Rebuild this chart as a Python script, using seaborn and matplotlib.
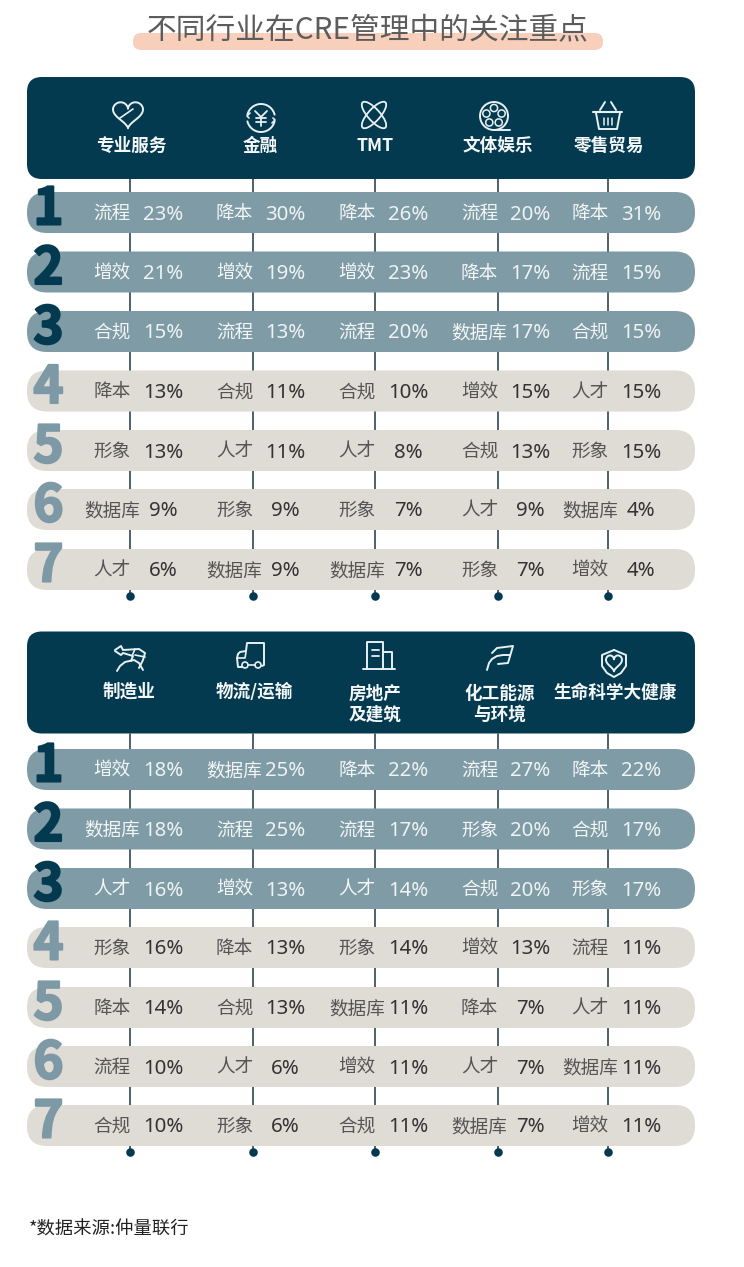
import numpy as np
import pandas as pd
import seaborn as sns
import matplotlib.pyplot as plt
import matplotlib.patheffects as pe
from matplotlib.patches import FancyBboxPatch, Circle, Ellipse

sns.set_theme(style="white")
plt.rcParams['font.family'] = ['Noto Sans CJK SC', 'DejaVu Sans']

title = "不同行业在CRE管理中的关注重点"
source = "*数据来源:仲量联行"
ranks = [1, 2, 3, 4, 5, 6, 7]

# top panel
top_sectors = ["专业服务", "金融", "TMT", "文体娱乐", "零售贸易"]
top_labels = [
    ["流程", "增效", "合规", "降本", "形象", "数据库", "人才"],
    ["降本", "增效", "流程", "合规", "人才", "形象", "数据库"],
    ["降本", "增效", "流程", "合规", "人才", "形象", "数据库"],
    ["流程", "降本", "数据库", "增效", "合规", "人才", "形象"],
    ["降本", "流程", "合规", "人才", "形象", "数据库", "增效"],
]
top_values = [
    [23, 21, 15, 13, 13, 9, 6],
    [30, 19, 13, 11, 11, 9, 9],
    [26, 23, 20, 10, 8, 7, 7],
    [20, 17, 17, 15, 13, 9, 7],
    [31, 15, 15, 15, 15, 4, 4],
]

# bottom panel
bottom_sectors = ["制造业", "物流/运输", "房地产\n及建筑", "化工能源\n与环境", "生命科学大健康"]
bottom_labels = [
    ["增效", "数据库", "人才", "形象", "降本", "流程", "合规"],
    ["数据库", "流程", "增效", "降本", "合规", "人才", "形象"],
    ["降本", "流程", "人才", "形象", "数据库", "增效", "合规"],
    ["流程", "形象", "合规", "增效", "降本", "人才", "数据库"],
    ["降本", "合规", "形象", "流程", "人才", "数据库", "增效"],
]
bottom_values = [
    [18, 18, 16, 16, 14, 10, 10],
    [25, 25, 13, 13, 13, 6, 6],
    [22, 17, 14, 14, 11, 11, 11],
    [27, 20, 20, 13, 7, 7, 7],
    [22, 17, 17, 11, 11, 11, 11],
]

# colours
navy = "#033a50"
steel = "#7f9ba6"
stone = "#dfdbd5"
peach = "#f7cfba"
muted = "#7c99a5"
line_c = "#e8f0f2"

col_x = [130, 252.5, 375, 497.5, 608]
row_h = 41

fig = plt.figure(figsize=(7.44, 12.67), dpi=100)
ax = fig.add_axes([0, 0, 1, 1])
ax.set_xlim(0, 744)
ax.set_ylim(1267, 0)
ax.axis("off")


def pill(x0, y0, x1, y1, r, color, z=2):
    ax.add_patch(FancyBboxPatch((x0 + r, y0 + r), x1 - x0 - 2 * r, y1 - y0 - 2 * r,
                                boxstyle=f"round,pad={r},rounding_size={r}",
                                fc=color, ec="none", zorder=z))


def stroke(xs, ys, lw=1.4):
    ax.plot(xs, ys, color=line_c, lw=lw, zorder=6, solid_capstyle="round",
            solid_joinstyle="round")


def ring(cx, cy, r, lw=1.4):
    ax.add_patch(Circle((cx, cy), r, fc="none", ec=line_c, lw=lw, zorder=6))


def heart(cx, cy, sx, sy):
    t = np.linspace(0, 2 * np.pi, 100)
    stroke(cx + sx * np.sin(t) ** 3,
           cy - sy * (13 * np.cos(t) - 5 * np.cos(2 * t) - 2 * np.cos(3 * t) - np.cos(4 * t)))


def icon_heart():
    heart(128, 113, 15, 0.9)
    stroke([120, 133], [118, 109], 1.2)


def icon_yen():
    t = np.linspace(0.25, 2.9, 30)
    stroke(261 + 14 * np.cos(t), 118 + 14 * np.sin(t))
    stroke(261 - 14 * np.cos(t), 118 - 14 * np.sin(t))
    stroke([250, 247, 249], [113, 116, 118], 1.2)
    stroke([272, 275, 273], [123, 120, 118], 1.2)
    stroke([255, 261, 267], [111, 117, 111], 1.3)
    stroke([261, 261], [117, 126], 1.3)
    stroke([256, 266], [118, 118], 1.3)
    stroke([256, 266], [122, 122], 1.3)


def icon_tmt():
    for a in (-42, 42):
        ax.add_patch(Ellipse((374, 115), 12, 34, angle=a, fc="none", ec=line_c, lw=1.3, zorder=6))


def icon_reel():
    ring(494, 116, 14)
    for a in np.deg2rad([90, 162, 234, 306, 18]):
        ring(494 + 8 * np.cos(a), 116 - 8 * np.sin(a), 3.6, 1.1)
    stroke([494, 510], [130, 130])


def icon_basket():
    stroke([593, 622], [112, 112], 1.5)
    stroke([596, 599, 617, 620], [113, 129, 129, 113])
    stroke([600, 605], [110, 102])
    stroke([616, 611], [110, 102])
    for x in (604, 608, 612):
        stroke([x, x], [118, 125], 1.1)


def icon_robot():
    stroke([115, 121, 123, 139, 145, 143, 139], [650, 646, 650, 649, 653, 660, 668])
    stroke([115, 121, 123, 133, 131], [651, 655, 653, 656, 661])
    stroke([135, 132], [649, 656], 1.2)
    stroke([145, 135], [657, 655], 1.2)
    stroke([117, 120, 125, 134, 139, 143], [671, 666, 662, 660, 663, 670])


def icon_truck():
    stroke([242, 238, 237, 238, 240, 246, 247, 264, 264, 262],
           [667, 667, 658, 654, 652, 651, 643, 643, 665, 666])
    stroke([238, 245, 246], [658, 658, 652], 1.2)
    ring(245, 665, 3, 1.2)
    ring(258, 665, 3, 1.2)
    stroke([248, 255], [665, 665], 1.2)


def icon_building():
    stroke([367, 367, 383, 383], [669, 642, 642, 669])
    stroke([383, 392, 392], [652, 652, 669])
    stroke([363, 395], [669, 669])
    stroke([372, 379], [650, 650], 1.3)
    stroke([372, 379], [656, 656], 1.3)


def icon_leaf():
    stroke([487, 489, 492, 497, 503, 510], [670, 663, 659, 656, 655, 655])
    stroke([492, 497, 513, 508, 498], [653, 648, 646, 663, 664])


def icon_shield():
    stroke([614, 626, 626, 621, 614, 607, 602, 602, 614], [650, 655, 666, 673, 677, 673, 666, 655, 650])
    heart(614, 662, 8, 0.55)


def draw_panel(sectors, labels, values, head_top, row_tops, dot_y, name_x, name_y):
    head_bottom = head_top + 102
    # connector lines and end dots come from a long table through seaborn
    stems = pd.DataFrame({
        "x": np.repeat(col_x, 2),
        "y": [head_bottom, dot_y] * len(col_x),
        "col": np.repeat(range(len(col_x)), 2),
    })
    sns.lineplot(data=stems, x="x", y="y", units="col", estimator=None, sort=False,
                 color="#1d3742", lw=1.1, ax=ax, zorder=1, legend=False)
    sns.scatterplot(x=col_x, y=[dot_y] * len(col_x), color=navy, s=38, linewidth=0, ax=ax,
                    zorder=3, legend=False)
    ax.set_xlim(0, 744)
    ax.set_ylim(1267, 0)

    pill(27, head_top, 695, head_bottom, 15, navy, 4)
    for name, nx, ny in zip(sectors, name_x, name_y):
        ax.text(nx, ny, name, color="#f4f7f8", fontsize=12.7, fontweight="bold",
                ha="center", va="center", zorder=7, linespacing=1.2)

    for r, top in zip(ranks, row_tops):
        dark = r <= 3
        pill(27, top, 695, top + row_h, 20, steel if dark else stone)
        num_c = navy if dark else muted
        ax.text(48.5, top + 17, str(r), color=num_c, fontsize=37, fontweight="bold",
                ha="center", va="center", zorder=5,
                path_effects=[pe.withStroke(linewidth=1.5, foreground=num_c)])
        for c, cx in enumerate(col_x):
            ax.text(cx - 18, top + 22, labels[c][r - 1], color="#f3f6f7" if dark else "#555555",
                    fontsize=13.4, ha="center", va="center", zorder=5)
            ax.text(cx + 33, top + 22.5, f"{values[c][r - 1]}%", color="#eef3f4" if dark else "#333333",
                    fontsize=14.7, fontweight="light", family=["Noto Sans", "DejaVu Sans"],
                    ha="center", va="center", zorder=5)


# title with highlight stroke behind it
pill(133, 33, 603, 50, 8, peach, 1)
ax.text(368, 31, title, color="#5c5c5c", fontsize=21.4, fontweight="light",
        ha="center", va="center", zorder=3)

draw_panel(top_sectors, top_labels, top_values, 77,
           [192, 251.5, 311, 370.5, 430, 489, 549], 596,
           [131, 260, 375, 498, 608.5], [146] * 5)
draw_panel(bottom_sectors, bottom_labels, bottom_values, 631.5,
           [749, 808.5, 868, 927, 987, 1046, 1105], 1152,
           [129.5, 254, 375, 499.5, 615], [691.5, 691.5, 704, 704, 693])

for icon in (icon_heart, icon_yen, icon_tmt, icon_reel, icon_basket,
             icon_robot, icon_truck, icon_building, icon_leaf, icon_shield):
    icon()

ax.text(29, 1230, source, color="#222222", fontsize=13.2, fontweight="medium", ha="left", va="center")

fig.savefig("out.png", dpi=100)
